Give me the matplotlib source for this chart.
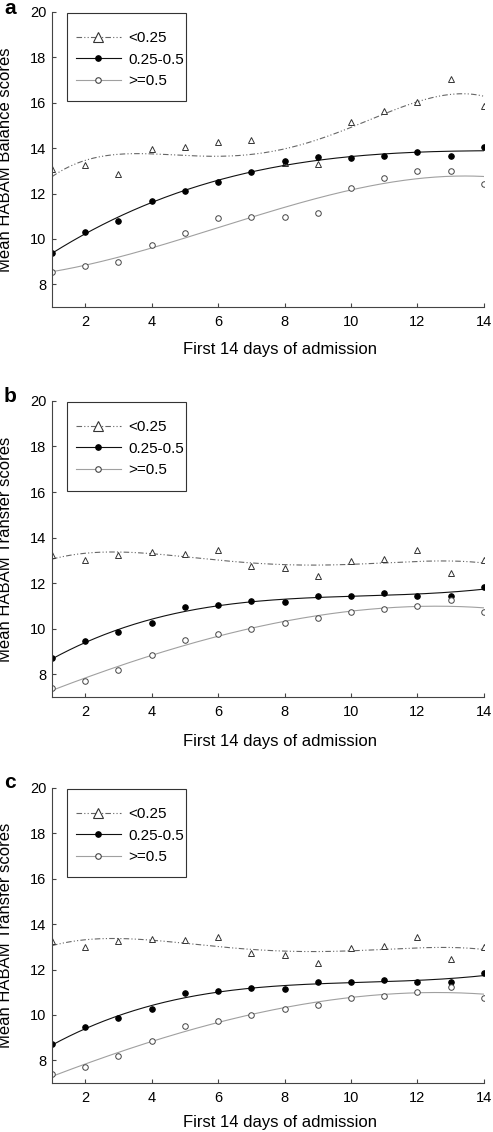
"""
Mean HABAM scores over the first 14 days of admission, by group.
"""

import matplotlib.pyplot as plt
import numpy as np
from matplotlib.patches import Rectangle

plt.rcParams["font.family"] = ["Liberation Sans", "DejaVu Sans"]

DAYS = list(range(1, 15))
GROUPS = ["<0.25", "0.25-0.5", ">=0.5"]

BALANCE_LOW = [13.1, 13.25, 12.85, 13.95, 14.05, 14.25, 14.35, 13.35, 13.3, 15.15, 15.65, 16.05, 17.05, 15.85]
BALANCE_MID = [9.4, 10.3, 10.8, 11.65, 12.1, 12.5, 12.95, 13.45, 13.6, 13.55, 13.65, 13.85, 13.65, 14.05]
BALANCE_HIGH = [8.55, 8.8, 9.0, 9.75, 10.25, 10.9, 10.95, 10.95, 11.15, 12.25, 12.7, 13.0, 13.0, 12.4]

TRANSFER_LOW = [13.25, 13.0, 13.25, 13.35, 13.3, 13.45, 12.75, 12.65, 12.3, 12.95, 13.05, 13.45, 12.45, 13.0]
TRANSFER_MID = [8.7, 9.45, 9.85, 10.25, 10.95, 11.05, 11.2, 11.15, 11.45, 11.45, 11.55, 11.45, 11.45, 11.85]
TRANSFER_HIGH = [7.4, 7.7, 8.2, 8.85, 9.5, 9.75, 10.0, 10.25, 10.45, 10.75, 10.85, 11.0, 11.25, 10.75]

PANEL_LETTERS = ["a", "b", "c"]
Y_LABELS = ["Mean HABAM Balance scores", "Mean HABAM Transfer scores", "Mean HABAM Transfer scores"]
X_LABEL = "First 14 days of admission"

# polynomial degree of the trend line for each group
FIT_DEGREES = [4, 3, 3]

STYLES = [
    dict(color="#666666", ls=(0, (5, 2, 1, 2, 1, 2)), marker="^", mfc="white", mec="#333333", ms=5),
    dict(color="#111111", ls="-", marker="o", mfc="black", mec="black", ms=4),
    dict(color="#a0a0a0", ls="-", marker="o", mfc="white", mec="#444444", ms=4),
]

# axes boxes in figure fractions: left, bottom, width, height
AX_BOXES = [
    (0.1055, 0.7288, 0.876, 0.2606),
    (0.1055, 0.3843, 0.876, 0.2615),
    (0.1055, 0.0433, 0.876, 0.2606),
]
XLABEL_Y = [-0.118, -0.124, -0.108]
LETTER_Y = [1 - 8 / 1132, 1 - 397 / 1132, 1 - 783 / 1132]

# legend frame (axes fraction) - drawn by hand, MATLAB style padding
LEGEND_BOX = (0.035, 0.697, 0.275, 0.300)


def draw_panel(ax, series, ylabel, xlabel_y):
    handles = []
    xs_fit = np.linspace(1, 14, 300)
    for vals, st, deg in zip(series, STYLES, FIT_DEGREES):
        coef = np.polyfit(DAYS, vals, deg)
        ax.plot(xs_fit, np.polyval(coef, xs_fit), color=st["color"], ls=st["ls"], lw=0.8)
        ax.plot(DAYS, vals, ls="none", marker=st["marker"], mfc=st["mfc"],
                mec=st["mec"], ms=st["ms"], mew=0.7)
        h, = ax.plot([], [], color=st["color"], ls=st["ls"], lw=0.8, marker=st["marker"],
                     mfc=st["mfc"], mec=st["mec"], ms=st["ms"] + (1.5 if st["marker"] == "^" else 0),
                     mew=0.8)
        handles.append(h)
    ax.set_xlim(1, 14)
    ax.set_ylim(7, 20)
    ax.set_xticks(range(2, 15, 2))
    ax.set_yticks(range(8, 21, 2))
    for side in ("top", "right"):
        ax.spines[side].set_visible(False)
    for side in ("left", "bottom"):
        ax.spines[side].set_color("#444444")
        ax.spines[side].set_linewidth(0.8)
    ax.tick_params(direction="in", length=3, width=0.8, color="#444444",
                   labelsize=10.5, pad=4)
    ax.tick_params(axis="x", pad=6)
    ax.set_ylabel(ylabel, fontsize=12)
    ax.yaxis.set_label_coords(-0.09, 0.5)
    ax.set_xlabel(X_LABEL, fontsize=12)
    ax.xaxis.set_label_coords(0.527, xlabel_y)

    x0, y0, w, h = LEGEND_BOX
    ax.add_patch(Rectangle((x0, y0), w, h, transform=ax.transAxes, facecolor="white",
                           edgecolor="#333333", linewidth=0.8, zorder=4, clip_on=False))
    leg = ax.legend(handles, GROUPS, loc="upper left", bbox_to_anchor=(0.056, 0.935),
                    borderaxespad=0, fontsize=11, handlelength=2.9, handletextpad=0.5,
                    labelspacing=0.5, frameon=False, borderpad=0)
    leg.set_zorder(5)


def main():
    fig = plt.figure(figsize=(4.93, 11.32), dpi=100)
    panels = [
        (BALANCE_LOW, BALANCE_MID, BALANCE_HIGH),
        (TRANSFER_LOW, TRANSFER_MID, TRANSFER_HIGH),
        (TRANSFER_LOW, TRANSFER_MID, TRANSFER_HIGH),
    ]
    for i, series in enumerate(panels):
        ax = fig.add_axes(AX_BOXES[i])
        draw_panel(ax, series, Y_LABELS[i], XLABEL_Y[i])
        fig.text(10 / 493, LETTER_Y[i], PANEL_LETTERS[i], fontsize=15,
                 fontweight="bold", ha="center", va="center")
    fig.savefig("out.png", dpi=100)


if __name__ == "__main__":
    main()
